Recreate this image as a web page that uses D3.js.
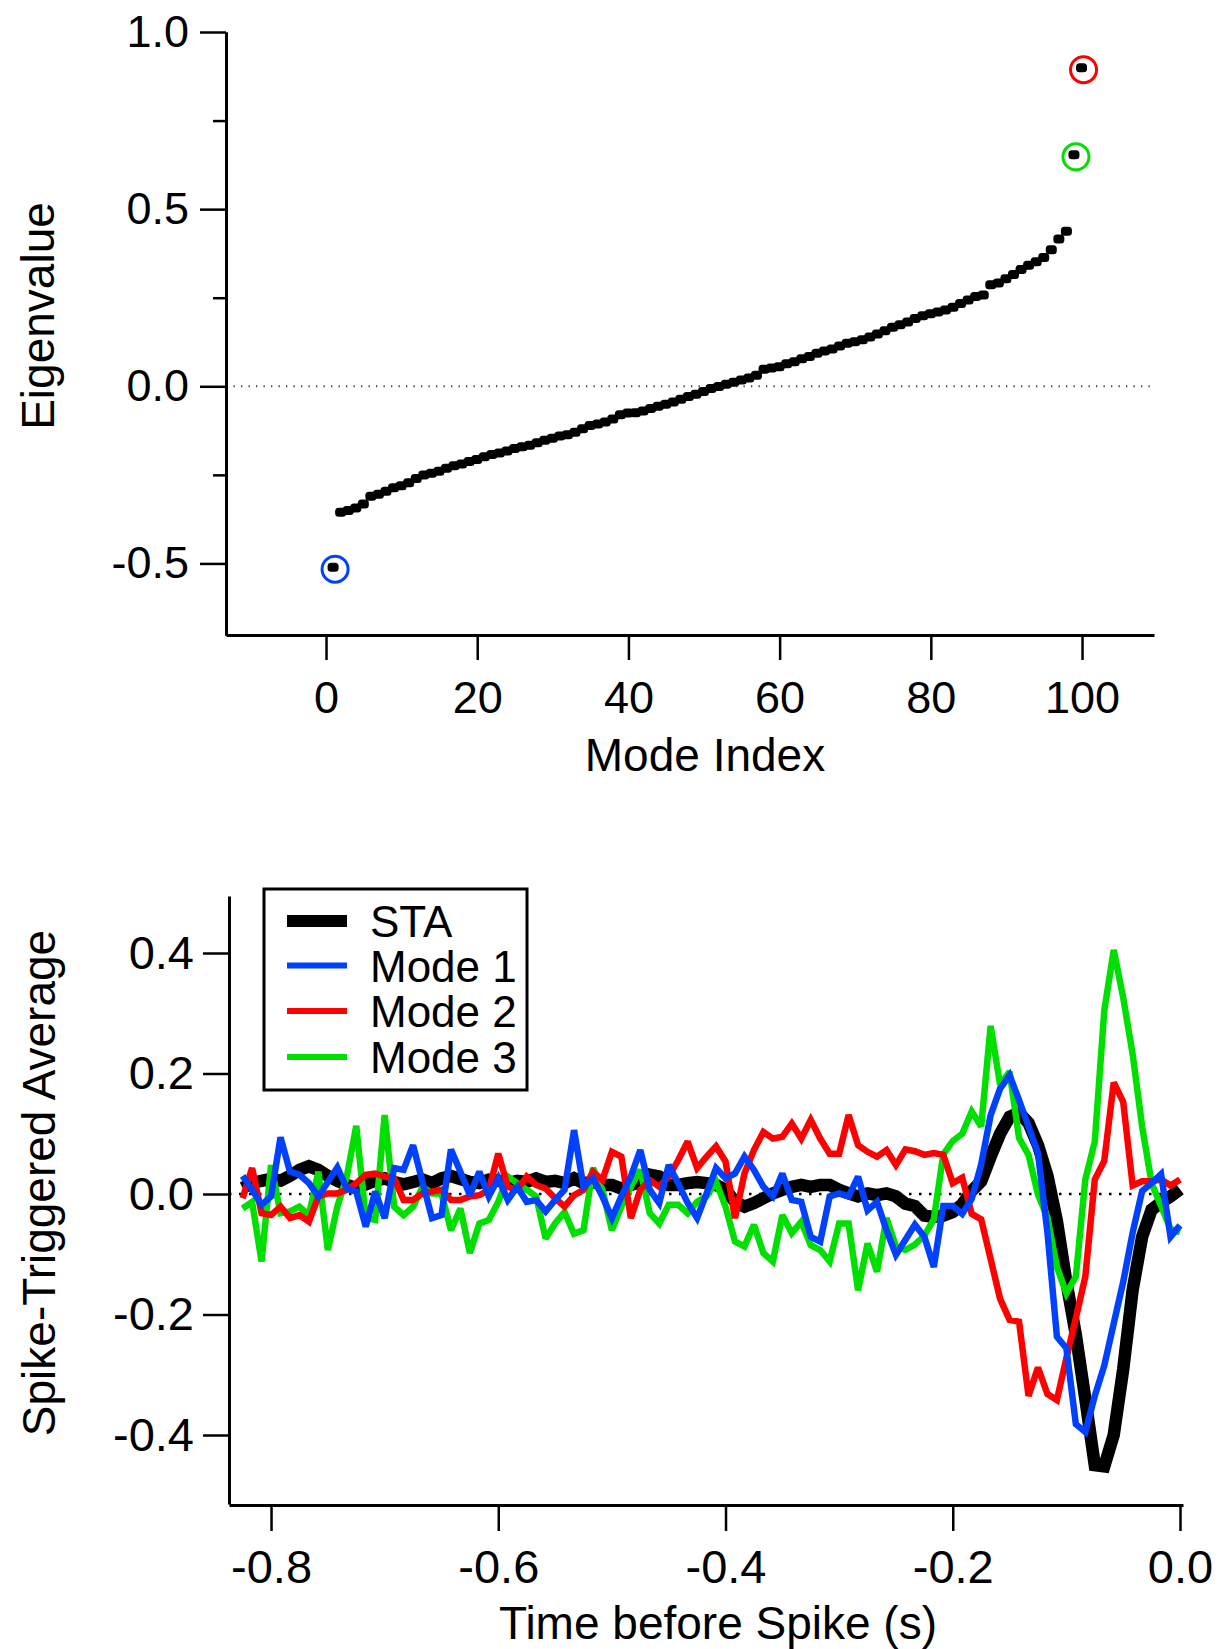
<!DOCTYPE html>
<html>
<head>
<meta charset="utf-8">
<script src="https://cdn.jsdelivr.net/npm/d3@7"></script>
<style>
  html, body { margin: 0; padding: 0; background: #fff; }
  svg { display: block; font-family: "Liberation Sans", Arial, sans-serif; }
</style>
</head>
<body>
<svg id="chart" width="1219" height="1649"></svg>
<script>
// ---------------- DATA ----------------
// Top panel: eigenvalues for mode index 1..100 (sorted)
const eigenvalues = [
  -0.512,
  -0.357, -0.352, -0.345, -0.334, -0.312, -0.306, -0.298, -0.288, -0.282,
  -0.274, -0.262, -0.252, -0.247, -0.241, -0.233, -0.226, -0.221, -0.214,
  -0.208, -0.200, -0.194, -0.190, -0.184, -0.177, -0.172, -0.168, -0.161,
  -0.154, -0.148, -0.142, -0.138, -0.131, -0.121, -0.112, -0.108, -0.102,
  -0.094, -0.082, -0.077, -0.076, -0.071, -0.064, -0.058, -0.052, -0.046,
  -0.038, -0.030, -0.024, -0.016, -0.008, -0.002, 0.004, 0.010, 0.016,
  0.022, 0.030, 0.047, 0.050, 0.054, 0.062, 0.068, 0.076, 0.083, 0.092,
  0.098, 0.104, 0.112, 0.120, 0.124, 0.130, 0.138, 0.146, 0.155, 0.165,
  0.172, 0.180, 0.190, 0.198, 0.203, 0.208, 0.214, 0.222, 0.232, 0.242,
  0.252, 0.256, 0.285, 0.290, 0.302, 0.314, 0.328, 0.340, 0.350, 0.362,
  0.384, 0.414, 0.436,
  0.652, 0.898
];
const highlightModes = [1, 99, 100];
const highlightColors = ["#0040ff", "#00e000", "#ff0000"];
const eigenTicksX = [0, 20, 40, 60, 80, 100];
const eigenTicksY = [-0.5, 0.0, 0.5, 1.0];
const eigenMinorY = [-0.25, 0.25, 0.75];

// Bottom panel: 100 samples, first at -0.825 s, spaced 1/120 s
const sampleStart = -0.825;
const sampleStep = 1 / 120;
const staValues = [
  0.010, 0.018, 0.022, 0.025, 0.022, 0.030, 0.040, 0.046, 0.040, 0.030,
  0.022, 0.015, 0.010, 0.016, 0.022, 0.026, 0.020, 0.016, 0.020, 0.024,
  0.018, 0.026, 0.030, 0.025, 0.020, 0.018, 0.024, 0.022, 0.018, 0.022,
  0.020, 0.026, 0.020, 0.022, 0.018, 0.026, 0.018, 0.020, 0.015, 0.015,
  0.009, 0.015, 0.020, 0.032, 0.029, 0.015, 0.015, 0.018, 0.020, 0.018,
  0.015, 0.007, -0.013, -0.021, -0.015, -0.007, 0.001, 0.007, 0.012, 0.015,
  0.012, 0.015, 0.015, 0.007, 0.001, -0.004, 0.001, -0.002, 0.001, -0.004,
  -0.016, -0.020, -0.036, -0.038, -0.036, -0.030, -0.017, 0.005, 0.021, 0.062,
  0.100, 0.128, 0.135, 0.118, 0.081, 0.030, -0.045, -0.146, -0.234, -0.340,
  -0.450, -0.452, -0.400, -0.291, -0.159, -0.071, -0.026, -0.014, -0.004, 0.008
];
const mode1Values = [
  0.030, 0.007, -0.018, -0.004, 0.094, 0.037, 0.032, 0.018, -0.004, 0.020,
  0.044, 0.009, 0.004, -0.054, 0.004, -0.040, 0.043, 0.040, 0.081, 0.020,
  -0.040, -0.035, 0.074, 0.037, -0.002, 0.037, -0.004, 0.026, -0.010, 0.012,
  -0.013, -0.010, -0.029, -0.010, 0.007, 0.106, 0.012, 0.026, -0.004, -0.040,
  -0.004, 0.029, 0.073, 0.007, -0.015, 0.048, 0.018, -0.015, -0.040, 0.001,
  0.043, 0.026, 0.034, 0.062, 0.040, 0.012, -0.004, 0.034, -0.010, -0.013,
  -0.071, -0.079, -0.004, 0.001, -0.004, 0.029, -0.027, -0.013, -0.060, -0.101,
  -0.076, -0.051, -0.071, -0.121, -0.020, -0.020, -0.033, -0.008, 0.049, 0.131,
  0.175, 0.197, 0.156, 0.112, 0.068, -0.064, -0.237, -0.256, -0.382, -0.395,
  -0.335, -0.285, -0.215, -0.146, -0.064, 0.005, 0.018, 0.033, -0.071, -0.052
];
const mode2Values = [
  -0.007, 0.043, -0.032, -0.035, -0.021, -0.040, -0.035, -0.046, -0.004, 0.001,
  0.001, 0.007, 0.018, 0.032, 0.034, 0.029, 0.026, -0.010, -0.010, 0.001,
  0.004, 0.007, -0.010, -0.010, -0.004, -0.002, 0.007, 0.067, 0.012, 0.007,
  0.029, 0.015, 0.009, -0.007, -0.021, -0.002, 0.007, 0.037, 0.023, 0.070,
  0.062, -0.040, 0.007, 0.023, 0.012, 0.029, 0.056, 0.087, 0.043, 0.062,
  0.079, 0.054, -0.040, 0.034, 0.073, 0.103, 0.092, 0.095, 0.117, 0.092,
  0.123, 0.092, 0.067, 0.067, 0.131, 0.081, 0.070, 0.062, 0.073, 0.048,
  0.074, 0.071, 0.065, 0.068, 0.065, 0.018, 0.027, -0.033, -0.042, -0.108,
  -0.174, -0.209, -0.212, -0.335, -0.288, -0.332, -0.342, -0.272, -0.206, -0.137,
  0.024, 0.055, 0.185, 0.153, 0.014, 0.021, 0.021, 0.024, 0.014, 0.024
];
const mode3Values = [
  -0.024, -0.013, -0.112, 0.048, -0.032, -0.029, -0.021, -0.035, 0.037, -0.093,
  -0.021, 0.029, 0.113, -0.040, -0.043, 0.131, -0.021, -0.035, -0.021, 0.012,
  0.001, 0.001, -0.060, -0.024, -0.098, -0.049, -0.043, -0.013, 0.029, 0.018,
  0.007, -0.004, -0.074, -0.049, -0.030, -0.066, -0.060, 0.043, 0.007, -0.060,
  -0.021, 0.012, 0.040, -0.032, -0.049, -0.018, -0.018, -0.032, -0.013, -0.004,
  0.020, -0.021, -0.079, -0.087, -0.051, -0.098, -0.112, -0.035, -0.065, -0.046,
  -0.085, -0.093, -0.112, -0.049, -0.049, -0.160, -0.082, -0.129, -0.040, -0.087,
  -0.093, -0.084, -0.069, -0.042, 0.066, 0.088, 0.100, 0.137, 0.112, 0.279,
  0.181, 0.203, 0.093, 0.065, -0.001, -0.039, -0.121, -0.165, -0.137, 0.024,
  0.087, 0.304, 0.405, 0.326, 0.232, 0.112, 0.018, -0.020, -0.058, -0.064
];
const seriesNames = ["STA", "Mode 1", "Mode 2", "Mode 3"];
const seriesColors = ["#000000", "#0040ff", "#ff0000", "#00e000"];
const staTicksX = [-0.8, -0.6, -0.4, -0.2, 0.0];
const staTicksY = [-0.4, -0.2, 0.0, 0.2, 0.4];

// ---------------- DRAW ----------------
const svg = d3.select("#chart");
const fmt = d => (Math.abs(d) < 1e-9 ? 0 : d).toFixed(1);

function styleAxis(g, fontSize) {
  g.select(".domain").attr("stroke", "#000").attr("stroke-width", 3);
  g.selectAll(".tick line").attr("stroke", "#000").attr("stroke-width", 2.5);
  g.selectAll(".tick text").attr("fill", "#000")
    .style("font-size", fontSize + "px")
    .style("font-family", "'Liberation Sans', Arial, sans-serif");
}

// ===== Top panel =====
const x1 = d3.scaleLinear().domain([-13.23, 109.52]).range([226, 1154]);
const y1 = d3.scaleLinear().domain([-0.702, 1.0]).range([635, 32]);

svg.append("line")
  .attr("x1", x1.range()[0]).attr("x2", 1150)
  .attr("y1", y1(0)).attr("y2", y1(0))
  .attr("stroke", "#444").attr("stroke-width", 2)
  .attr("stroke-dasharray", "1.3,6.2");

const gx1 = svg.append("g").attr("transform", `translate(0,${y1.range()[0]})`)
  .call(d3.axisBottom(x1).tickValues(eigenTicksX).tickSize(25).tickSizeOuter(0)
    .tickPadding(21).tickFormat(d3.format("d")));
styleAxis(gx1, 45);

const gy1m = svg.append("g").attr("transform", `translate(${x1.range()[0]},0)`)
  .call(d3.axisLeft(y1).tickValues(eigenMinorY).tickSize(13).tickSizeOuter(0).tickFormat(""));
styleAxis(gy1m, 45);
const gy1 = svg.append("g").attr("transform", `translate(${x1.range()[0]},0)`)
  .call(d3.axisLeft(y1).tickValues(eigenTicksY).tickSize(26).tickSizeOuter(0)
    .tickPadding(11).tickFormat(fmt));
styleAxis(gy1, 45);

svg.append("text").attr("x", 705).attr("y", 771).attr("text-anchor", "middle")
  .style("font-size", "46px").text("Mode Index");
svg.append("text").attr("transform", "translate(54,316) rotate(-90)")
  .attr("text-anchor", "middle").style("font-size", "46px").text("Eigenvalue");

// markers: slightly elongated rounded blobs that merge into a band
const eigData = eigenvalues.map((v, i) => ({ mode: i + 1, value: v }));
svg.append("g").selectAll("rect.pt").data(eigData).join("rect")
  .attr("class", "pt")
  .attr("x", d => x1(d.mode) - 6).attr("y", d => y1(d.value) - 5)
  .attr("width", 11).attr("height", 9).attr("rx", 3.5).attr("ry", 3.5)
  .attr("fill", "#000");

svg.append("g").selectAll("circle.ring")
  .data(highlightModes.map((m, k) => ({ mode: m, value: eigenvalues[m - 1], color: highlightColors[k] })))
  .join("circle").attr("class", "ring")
  .attr("cx", d => x1(d.mode) + 1.5).attr("cy", d => y1(d.value) + 1.5)
  .attr("r", 13).attr("fill", "none").attr("stroke", d => d.color).attr("stroke-width", 3);

// ===== Bottom panel =====
const x2 = d3.scaleLinear().domain([-0.837, 0.00264]).range([229, 1183]);
const y2 = d3.scaleLinear().domain([-0.5145, 0.4946]).range([1504, 896]);

svg.append("line")
  .attr("x1", x2.range()[0]).attr("x2", x2(0))
  .attr("y1", y2(0)).attr("y2", y2(0))
  .attr("stroke", "#000").attr("stroke-width", 2.5)
  .attr("stroke-dasharray", "2.5,7.5");

const gx2 = svg.append("g").attr("transform", "translate(0,1505)")
  .call(d3.axisBottom(x2).tickValues(staTicksX).tickSize(26).tickSizeOuter(0)
    .tickPadding(19).tickFormat(fmt));
styleAxis(gx2, 47);
const gy2 = svg.append("g").attr("transform", `translate(${x2.range()[0]},0)`)
  .call(d3.axisLeft(y2).tickValues(staTicksY).tickSize(26).tickSizeOuter(0)
    .tickPadding(9).tickFormat(fmt));
styleAxis(gy2, 47);

svg.append("text").attr("x", 718).attr("y", 1639).attr("text-anchor", "middle")
  .style("font-size", "46px").text("Time before Spike (s)");
svg.append("text").attr("transform", "translate(55,1183) rotate(-90)")
  .attr("text-anchor", "middle").style("font-size", "46px").text("Spike-Triggered Average");

const allSeries = [staValues, mode1Values, mode2Values, mode3Values];
const widths = [12.5, 6.5, 6.5, 6.5];
const line = d3.line()
  .x((d, i) => x2(sampleStart + i * sampleStep))
  .y(d => y2(d));
const drawOrder = [0, 3, 2, 1];
drawOrder.forEach(k => {
  svg.append("path").datum(allSeries[k])
    .attr("d", line)
    .attr("fill", "none")
    .attr("stroke", seriesColors[k])
    .attr("stroke-width", widths[k])
    .attr("stroke-linejoin", "miter")
    .attr("stroke-miterlimit", 2.5);
});

// legend
const lg = svg.append("g");
lg.append("rect").attr("x", 264).attr("y", 889).attr("width", 263).attr("height", 201)
  .attr("fill", "#fff").attr("stroke", "#000").attr("stroke-width", 3);
const rowY = [921, 965.5, 1011, 1057];
seriesNames.forEach((name, k) => {
  lg.append("line").attr("x1", 287).attr("x2", 347)
    .attr("y1", rowY[k]).attr("y2", rowY[k])
    .attr("stroke", seriesColors[k]).attr("stroke-width", k === 0 ? 12 : 6);
  lg.append("text").attr("x", 370).attr("y", rowY[k] + 16)
    .style("font-size", "44px").text(name);
});
</script>
</body>
</html>
